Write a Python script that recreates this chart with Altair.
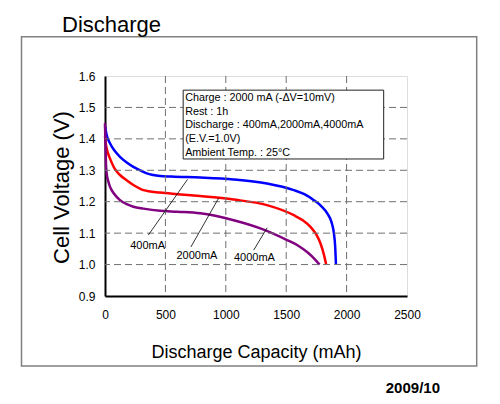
import altair as alt
import pandas as pd

FONT = "Liberation Sans"

# ---- data ----
series_names = ["400mA", "2000mA", "4000mA"]
series_colors = ["#0000FF", "#FF0000", "#800080"]

x_400 = [0, 5, 14, 41, 80, 124, 180, 235, 300, 346, 400, 456, 550, 788, 1065,
         1341, 1563, 1650, 1729, 1790, 1840, 1875, 1895, 1905, 1912]
v_400 = [1.44, 1.43, 1.412, 1.386, 1.362, 1.343, 1.325, 1.311, 1.298, 1.290, 1.285,
         1.282, 1.280, 1.277, 1.271, 1.258, 1.237, 1.224, 1.205, 1.186, 1.163,
         1.135, 1.099, 1.06, 1.0]

x_2000 = [0, 6, 20, 41, 80, 124, 180, 235, 318, 456, 600, 788, 1065, 1341, 1563,
          1640, 1701, 1750, 1784, 1810, 1831]
v_2000 = [1.41, 1.386, 1.36, 1.338, 1.305, 1.285, 1.268, 1.253, 1.237, 1.229, 1.224,
          1.218, 1.207, 1.189, 1.157, 1.14, 1.120, 1.095, 1.067, 1.035, 1.0]

x_4000 = [0, 4, 8, 14, 25, 41, 80, 124, 180, 235, 318, 456, 600, 788, 1065, 1286,
          1507, 1600, 1673, 1730, 1776]
v_4000 = [1.45, 1.38, 1.32, 1.29, 1.268, 1.248, 1.223, 1.205, 1.192, 1.184, 1.178,
          1.171, 1.168, 1.163, 1.141, 1.115, 1.078, 1.060, 1.040, 1.020, 1.0]

x_ticks = [0, 500, 1000, 1500, 2000, 2500]
y_ticks = [0.9, 1.0, 1.1, 1.2, 1.3, 1.4, 1.5, 1.6]
grid_x = [500, 1000, 1500, 2000]
grid_y = [1.0, 1.1, 1.2, 1.3, 1.4, 1.5]

label_text = ["400mA", "2000mA", "4000mA"]
label_x = [353, 761, 1237]
label_v = [1.059, 1.026, 1.022]

leader_x1 = [359, 711, 1231]
leader_v1 = [1.094, 1.056, 1.046]
leader_x2 = [683, 940, 1342]
leader_v2 = [1.271, 1.211, 1.117]

note_lines = [
    "Charge : 2000 mA (-\u0394V=10mV)",
    "Rest : 1h",
    "Discharge : 400mA,2000mA,4000mA",
    "(E.V.=1.0V)",
    "Ambient Temp. : 25\u00b0C",
]
note_box_x = [647, 2307]
note_box_v = [1.555, 1.336]

# ---- tables ----
rows = []
for name, xs, vs in [("400mA", x_400, v_400), ("2000mA", x_2000, v_2000), ("4000mA", x_4000, v_4000)]:
    for x, v in zip(xs, vs):
        rows.append({"series": name, "cap": x, "volt": v})
curves = pd.DataFrame(rows)

x_scale = alt.Scale(domain=[0, 2500], nice=False, zero=False)
y_scale = alt.Scale(domain=[0.9, 1.6], nice=False, zero=False)

x_axis = alt.Axis(
    values=x_ticks, format="d", title="Discharge Capacity (mAh)", grid=False, ticks=False,
    domainColor="black", domainWidth=2, labelFontSize=12, labelColor="black",
    labelPadding=13, labelFlush=False, labelFont=FONT,
    titleFontSize=18, titleFontWeight="normal", titleColor="black", titleFont=FONT,
    titleX=151, titleY=61, titleBaseline="alphabetic", titleAlign="center",
)
y_axis = alt.Axis(
    values=y_ticks, format=".1f", title="Cell Voltage (V)", grid=False, ticks=False,
    domainColor="black", domainWidth=2, labelFontSize=12, labelColor="black",
    labelPadding=10, labelFlush=False, labelFont=FONT,
    titleFontSize=22, titleFontWeight="normal", titleColor="black", titleFont=FONT,
    titleAngle=270, titleX=-37, titleY=111, titleBaseline="alphabetic",
    titleAlign="center",
)

W, H = 302, 220

one = pd.DataFrame({"k": [0]})

lines = alt.Chart(curves).mark_line(strokeWidth=2.5, interpolate="monotone").encode(
    x=alt.X("cap:Q", scale=x_scale, axis=x_axis),
    y=alt.Y("volt:Q", scale=y_scale, axis=y_axis),
    color=alt.Color("series:N", scale=alt.Scale(domain=series_names, range=series_colors), legend=None),
    detail="series:N",
)

gx = alt.Chart(pd.DataFrame({"cap": grid_x})).mark_rule(
    strokeDash=[7, 4], color="#707070", strokeWidth=1
).encode(x=alt.X("cap:Q", scale=x_scale, axis=x_axis))

gy = alt.Chart(pd.DataFrame({"volt": grid_y})).mark_rule(
    strokeDash=[7, 4], color="#707070", strokeWidth=1
).encode(y=alt.Y("volt:Q", scale=y_scale, axis=y_axis))

frame = alt.Chart(one).mark_rect(filled=False, stroke="#808080", strokeWidth=1.5).encode(
    x=alt.value(-83.5), x2=alt.value(371.7), y=alt.value(-39.3), y2=alt.value(290)
)

leaders = alt.Chart(pd.DataFrame({
    "cap": leader_x1, "volt": leader_v1, "x2": leader_x2, "v2": leader_v2
})).mark_rule(color="black", strokeWidth=0.8).encode(
    x=alt.X("cap:Q", scale=x_scale, axis=x_axis), y=alt.Y("volt:Q", scale=y_scale, axis=y_axis),
    x2="x2:Q", y2="v2:Q",
)

labels = alt.Chart(pd.DataFrame({"t": label_text, "cap": label_x, "volt": label_v})).mark_text(
    font=FONT, fontSize=11, color="black", align="center", baseline="middle"
).encode(
    x=alt.X("cap:Q", scale=x_scale, axis=x_axis),
    y=alt.Y("volt:Q", scale=y_scale, axis=y_axis),
    text="t:N",
)

box = alt.Chart(pd.DataFrame({"cap": [note_box_x[0]], "x2": [note_box_x[1]],
                              "volt": [note_box_v[0]], "v2": [note_box_v[1]]})).mark_rect(
    fill="white", stroke="#222222", strokeWidth=1
).encode(
    x=alt.X("cap:Q", scale=x_scale, axis=x_axis), x2="x2:Q",
    y=alt.Y("volt:Q", scale=y_scale, axis=y_axis), y2="v2:Q",
)

note = alt.Chart(pd.DataFrame({"cap": [note_box_x[0]], "volt": [note_box_v[0]]})).mark_text(
    text=note_lines, font=FONT, fontSize=10.8, color="black", align="left",
    baseline="top", lineHeight=13.6, dx=2, dy=2,
).encode(
    x=alt.X("cap:Q", scale=x_scale, axis=x_axis),
    y=alt.Y("volt:Q", scale=y_scale, axis=y_axis),
)

title = alt.Chart(one).mark_text(
    text="Discharge", font=FONT, fontSize=22, color="black", align="left", baseline="alphabetic"
).encode(x=alt.value(-43), y=alt.value(-44))

date = alt.Chart(one).mark_text(
    text="2009/10", font=FONT, fontSize=15, fontWeight="bold", color="black",
    align="right", baseline="alphabetic"
).encode(x=alt.value(335), y=alt.value(317))

chart = alt.layer(lines, gx, gy, frame, leaders, labels, box, note, title, date).properties(
    width=W, height=H,
    autosize=alt.AutoSizeParams(type="none"),
    padding={"left": 97, "top": 68, "right": 80, "bottom": 100},
).configure_view(stroke="#b8b8b8", strokeWidth=1).configure(font=FONT, background="white")

chart.save("out.html", embed_options={"renderer": "svg", "actions": False})
